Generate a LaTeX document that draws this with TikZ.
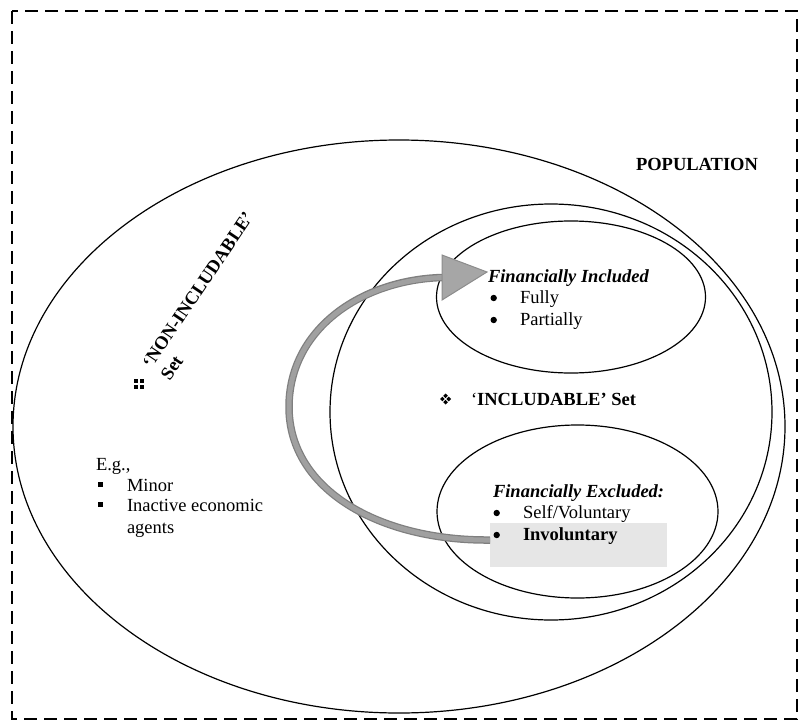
\documentclass[tikz,border=0pt]{standalone}
\usepackage{fontspec}
\setmainfont{Liberation Serif}
\usetikzlibrary{shapes.geometric}
\definecolor{shaftedge}{HTML}{7F7F7F}
\definecolor{shaftfill}{HTML}{A0A0A0}
\definecolor{headfill}{HTML}{A6A6A6}
\definecolor{headedge}{HTML}{8C8C8C}
\definecolor{boxgray}{HTML}{E6E6E6}
\begin{document}
\begin{tikzpicture}[x=1pt,y=-1pt,
  every node/.style={inner sep=0pt, outer sep=0pt},
  txt/.style={font=\fontsize{18.5}{22}\selectfont},
  lbl/.style={txt, anchor=base west},
  ring/.style={ellipse, draw=black, line width=1.2pt},
  frame/.style={draw=black, line width=1.5pt, dash pattern=on 13pt off 7pt},
  dot/.style={circle, fill=black, minimum size=6.4pt},
  sq/.style={fill=black}]
\useasboundingbox (0,0) rectangle (798,720);

% outer dashed frame
\draw[frame] (12,11) rectangle (797,719);

% nested sets
\node[ring, minimum width=772pt, minimum height=573pt] (pop) at (399,426.5) {};
\node[ring, minimum width=442pt, minimum height=416pt] (incl) at (551,412) {};
\node[ring, minimum width=269pt, minimum height=152pt] (fin) at (571,297) {};
\node[ring, minimum width=281pt, minimum height=173pt] (fex) at (577.5,511.5) {};

% highlight behind the involuntary item
\node[fill=boxgray, minimum width=177pt, minimum height=44pt] (invbox) at (578.5,545) {};

% curved arrow from involuntary exclusion to inclusion
\coordinate (headbase) at (442,277.5);
\coordinate (headtop) at (442,255);
\coordinate (headbot) at (442,300);
\coordinate (headtip) at (487,272);
\draw[shaftedge, line width=7.5pt]
  ([yshift=5pt]invbox.west) .. controls (380,541) and (289,490) .. (289,407)
  .. controls (289,330) and (360,280) .. (headbase);
\draw[shaftfill, line width=5pt]
  ([yshift=5pt]invbox.west) .. controls (380,541) and (289,490) .. (289,407)
  .. controls (289,330) and (360,280) .. ([xshift=1pt]headbase);
\filldraw[fill=headfill, draw=headedge, line width=1pt, line join=miter]
  (headtop) -- (headtip) -- (headbot) -- cycle;

% labels
\node[lbl] (poplbl) at (636,170) {\textbf{POPULATION}};

\node[lbl] (finlbl) at (488,282) {\textbf{\textit{Financially Included}}};
\node[dot] (b1) at (493.7,298) {};
\node[lbl] (fully) at (520,303) {Fully};
\node[dot] (b2) at (493.7,320) {};
\node[lbl] (partly) at (520,325) {Partially};

\foreach \dx/\dy in {0/-3.2, 3.2/0, 0/3.2, -3.2/0}
  \fill[shift={(445.5+\dx,399+\dy)}] (0,-2.3) -- (2.3,0) -- (0,2.3) -- (-2.3,0) -- cycle;
\node[lbl] (incllbl) at (471,405) {‘\textbf{INCLUDABLE’ Set}};

\node[lbl] (fexlbl) at (493,497) {\textbf{\textit{Financially Excluded:}}};
\node[dot] (b3) at (496.7,513) {};
\node[lbl] (selfv) at (523,518) {Self/Voluntary};
\node[dot] (b4) at (496.7,535) {};
\node[lbl] (invol) at (523,540) {\textbf{Involuntary}};

% non-includable set
\fill[sq] (134,379) rectangle ++(3.6,3.6);
\fill[sq] (140,379) rectangle ++(3.6,3.6);
\fill[sq] (134,385) rectangle ++(3.6,3.6);
\fill[sq] (140,385) rectangle ++(3.6,3.6);
\node[txt, rotate=56, align=left] (nonlbl) at (207,296)
  {\textbf{‘NON-INCLUDABLE’}\\\textbf{Set}};

\node[lbl] (eg) at (96,470) {E.g.,};
\fill[sq] (97.5,481.5) rectangle ++(5,5);
\node[lbl] (minor) at (127,491) {Minor};
\fill[sq] (97.5,501.5) rectangle ++(5,5);
\node[lbl] (inact) at (127,511) {Inactive economic};
\node[lbl] (agents) at (127,533) {agents};
\end{tikzpicture}
\end{document}
